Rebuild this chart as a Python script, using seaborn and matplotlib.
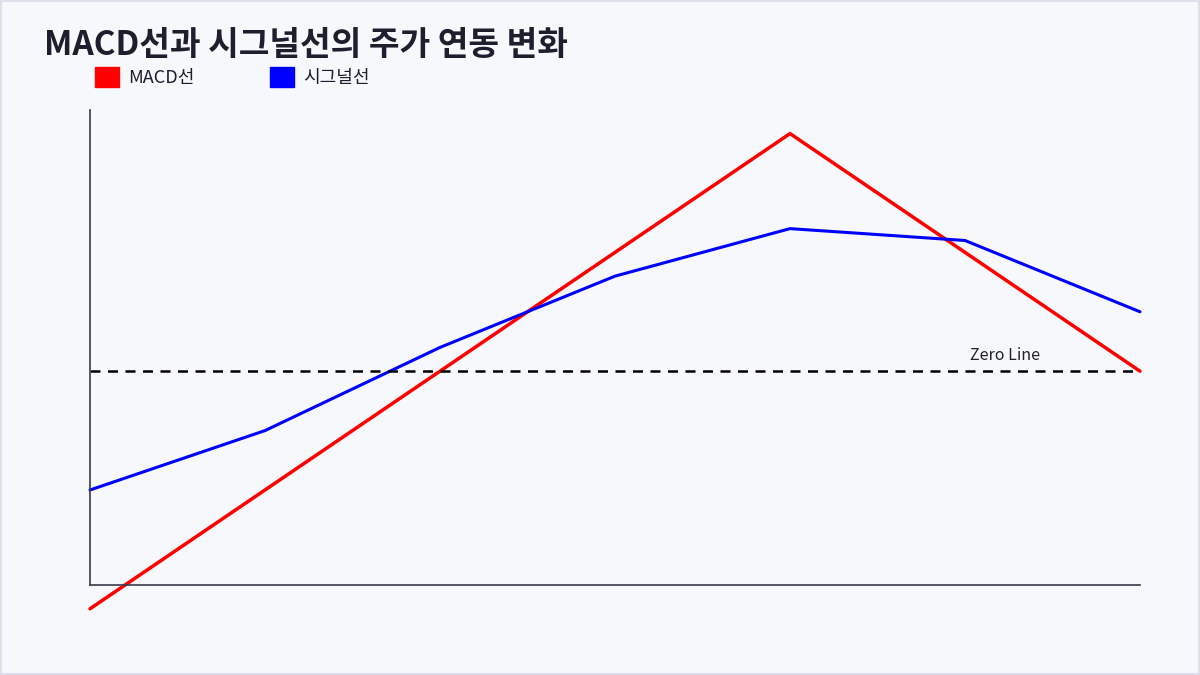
import matplotlib
matplotlib.use('Agg')
import matplotlib.pyplot as plt
import matplotlib.patches as mpatches
import pandas as pd
import seaborn as sns

sns.set_theme(style='white')
plt.rcParams['font.family'] = ['Noto Sans CJK KR', 'DejaVu Sans']

periods = [0, 1, 2, 3, 4, 5, 6]
macd = [-2.0, -1.0, 0.0, 1.0, 2.0, 1.0, 0.0]
signal = [-1.0, -0.5, 0.2, 0.8, 1.2, 1.1, 0.5]

df = pd.DataFrame({'x': periods, 'MACD선': macd, '시그널선': signal})

bg = '#f7f8fc'
fig = plt.figure(figsize=(12, 6.75), dpi=100, facecolor=bg)
ax = fig.add_axes([0.075, 0.1333, 0.875, 0.704])
ax.set_facecolor(bg)

sns.lineplot(data=df, x='x', y='MACD선', color='#ff0000', linewidth=2.5, ax=ax, clip_on=False)
sns.lineplot(data=df, x='x', y='시그널선', color='#0000ff', linewidth=2.2, ax=ax, clip_on=False)
ax.axhline(0, color='black', linestyle=(0, (4, 3)), linewidth=1.8)
ax.text(5.43, 0.06, 'Zero Line', ha='right', va='bottom', fontsize=11.5,
        fontweight='medium', color='#222222')

ax.set_xlim(0, 6)
ax.set_ylim(-1.8, 2.2)
ax.set_xticks([])
ax.set_yticks([])
ax.set_xlabel('')
ax.set_ylabel('')
for s in ['top', 'right']:
    ax.spines[s].set_visible(False)
for s in ['left', 'bottom']:
    ax.spines[s].set_color('#3a3a4a')
    ax.spines[s].set_linewidth(1.2)

fig.text(0.037, 0.933, 'MACD선과 시그널선의 주가 연동 변화', fontsize=24, fontweight='bold',
         color='#1e1e2e', va='center')
handles = [mpatches.Patch(color='#ff0000', label='MACD선'),
           mpatches.Patch(color='#0000ff', label='시그널선')]
leg = fig.legend(handles=handles, loc='center left', bbox_to_anchor=(0.066, 0.886), ncol=2,
                 frameon=False, fontsize=13, handlelength=1.3, handleheight=1.3,
                 columnspacing=4.2, handletextpad=0.5)
for t in leg.get_texts():
    t.set_fontweight('medium')
    t.set_color('#1e1e2e')

border = mpatches.Rectangle((0.001, 0.001), 0.998, 0.997, transform=fig.transFigure,
                            fill=False, edgecolor='#dde0ea', linewidth=1.5)
fig.patches.append(border)

fig.savefig('out.png', dpi=100, facecolor=bg)
